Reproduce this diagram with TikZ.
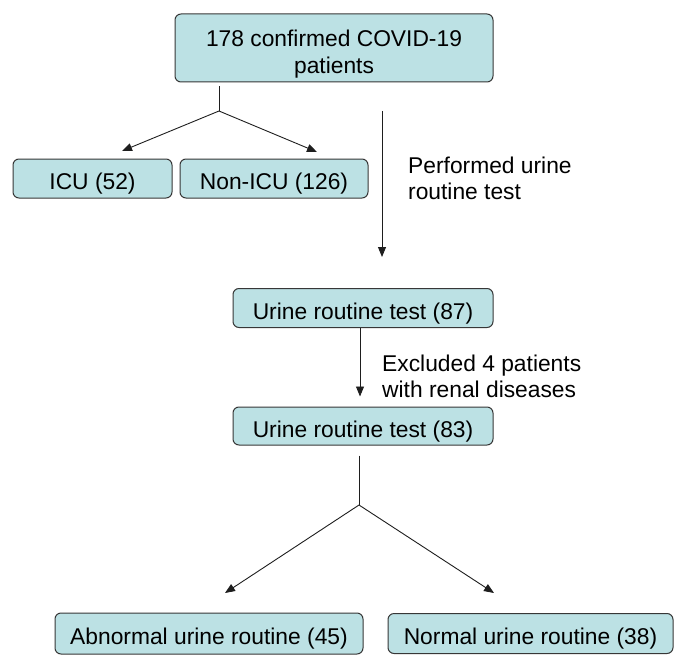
\documentclass[tikz,border=0pt]{standalone}
\usepackage{fontspec}
\setmainfont{Liberation Sans}
\usetikzlibrary{arrows.meta}
\definecolor{boxfill}{RGB}{188,225,228}
\definecolor{edge}{RGB}{55,55,55}
\definecolor{linec}{RGB}{30,30,30}
\begin{document}
\begin{tikzpicture}[x=1pt,y=-1pt,
  boxbase/.style={draw=edge, line width=1pt, fill=boxfill, rounded corners=6pt,
    inner sep=0pt, align=center, font=\fontsize{22.8}{26.5}\selectfont},
  box/.style={boxbase, text height=22pt, text depth=0pt},
  conn/.style={draw=linec, line width=0.9pt},
  arr/.style={conn, -{Triangle[length=10pt,width=8pt]}},
  lbl/.style={anchor=north west, align=left, inner sep=0pt,
    font=\fontsize{22.8}{26.5}\selectfont}]
\useasboundingbox (0,0) rectangle (685,666);
% boxes
\node[boxbase, minimum width=318pt, minimum height=68pt] (top) at (334,48)
  {\rule{0pt}{28.8pt}178 confirmed COVID-19\\patients};
\node[box, minimum width=159pt, minimum height=39pt] (icu) at (92.5,178.5) {ICU (52)};
\node[box, minimum width=188pt, minimum height=39pt] (nonicu) at (274,178.5) {Non-ICU (126)};
\node[box, minimum width=260pt, minimum height=39pt] (u87) at (363,308) {Urine routine test (87)};
\node[box, minimum width=260pt, minimum height=38pt] (u83) at (363,426) {Urine routine test (83)};
\node[box, minimum width=308pt, minimum height=41pt] (abn) at (209,633.5) {Abnormal urine routine (45)};
\node[box, minimum width=285pt, minimum height=40pt] (nor) at (530.5,633.5) {Normal urine routine (38)};
% labels
\node[lbl] (perf) at (408,156.5) {Performed urine\\routine test};
\node[lbl] (excl) at (382,354.5) {Excluded 4 patients\\with renal diseases};
% connector points
\coordinate (tb) at (219,111);
\coordinate (icuTip) at (122,151);
\coordinate (nonTip) at (317,152);
\coordinate (pa) at (382,111);
\coordinate (pb) at (382,257);
\coordinate (bb) at (359,505);
\coordinate (abnTip) at (225,593);
\coordinate (norTip) at (494,593);
% connectors
\draw[conn, shorten <=4pt] (top.south -| tb) -- (tb);
\draw[arr] (tb) -- (icuTip);
\draw[arr] (tb) -- (nonTip);
\draw[arr] (pa) -- (pb);
\draw[arr, shorten >=10pt] ([xshift=-3pt]u87.south) -- ([xshift=-3pt]u83.north);
\draw[conn, shorten <=10pt] (u83.south -| bb) -- (bb);
\draw[arr] (bb) -- (abnTip);
\draw[arr] (bb) -- (norTip);
\end{tikzpicture}
\end{document}
